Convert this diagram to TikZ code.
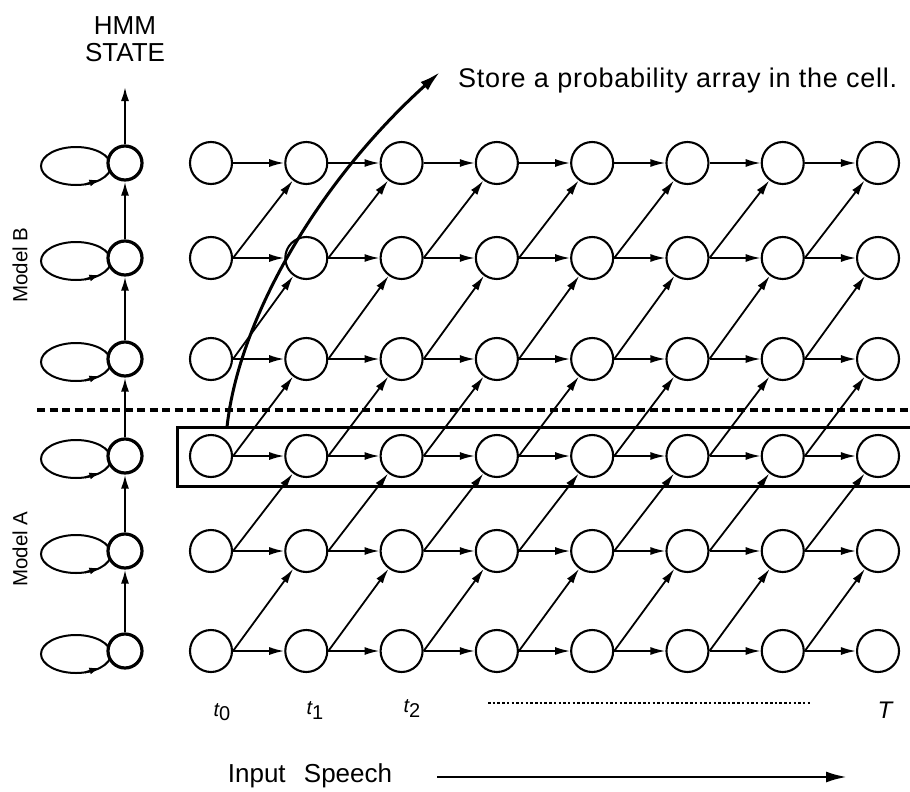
\documentclass[tikz,border=0pt]{standalone}
\usepackage{fontspec}
\setmainfont{Liberation Sans}
\usetikzlibrary{arrows.meta}
\begin{document}
\begin{tikzpicture}[x=1pt,y=-1pt,
  cell/.style={circle,draw,line width=2.1pt,fill=white,minimum size=42pt,inner sep=0pt},
  hstate/.style={circle,draw,line width=3.2pt,fill=white,minimum size=34pt,inner sep=0pt},
  arr/.style={line width=1.8pt,-{Latex[length=15pt,width=8pt]}},
  sarr/.style={line width=2pt,-{Latex[length=14pt,width=8pt]}},
  loopline/.style={line width=2pt},
  bigtxt/.style={font=\fontsize{26}{28}\selectfont,inner sep=0pt},
  midtxt/.style={font=\fontsize{20.5}{22}\selectfont,inner sep=0pt},
  tlab/.style={font=\fontsize{20}{22}\selectfont,inner sep=0pt,anchor=base}]
\useasboundingbox (0,0) rectangle (910,792);
% dashed separator and cell box
\coordinate (dl) at (37,410);
\coordinate (dr) at (910,410);
\draw[line width=3.2pt,dash pattern=on 8pt off 4.5pt] (dl) -- (dr);
\coordinate (b1) at (910,427);
\coordinate (b2) at (177,427);
\coordinate (b3) at (177,486);
\coordinate (b4) at (910,486);
\draw[line width=3pt] (b1) -- (b2) -- (b3) -- (b4);
% HMM state column
\foreach \r/\y in {1/163,2/258,3/359,4/456,5/551,6/651} {
  \draw[loopline] (76,\y+3) ellipse [x radius=35, y radius=19];
  \draw[loopline,-{Latex[length=11pt,width=7pt]}] (85,\y+21.4) -- (100.3,\y+16.7);
  \node[hstate] (L\r) at (125,\y) {};
}
\coordinate (top) at (125,87);
\draw[sarr] (L1) -- (top);
\foreach \r [evaluate=\r as \u using int(\r-1)] in {2,...,6}
  \draw[sarr] (L\r) -- (L\u);
% grid of cells
\foreach \c in {0,...,7}
  \foreach \r/\y in {1/163,2/258,3/359,4/456,5/551,6/651}
    \node[cell] (c\c-\r) at ({211+95.29*\c},\y) {};
\foreach \c [evaluate=\c as \n using int(\c+1)] in {0,...,6} {
  \foreach \r in {1,...,6}
    \draw[arr] (c\c-\r) -- (c\n-\r);
  \foreach \r [evaluate=\r as \u using int(\r-1)] in {2,...,6}
    \draw[arr] (c\c-\r.east) -- (c\n-\u);
}
% curved pointer
\coordinate (cs) at (227,427);
\coordinate (ce) at (440,72);
\draw[line width=3pt,-{Latex[length=21pt,width=11pt]}] (cs) .. controls (239,317) and (320,180) .. (ce);
% texts
\node[bigtxt,anchor=base] (hmm) at (125,35) {HMM};
\node[bigtxt,anchor=base] (st) at (125,62) {STATE};
\node[font=\fontsize{27}{29}\selectfont\addfontfeature{LetterSpace=2.8},inner sep=0pt,anchor=base west] (store) at (458,88) {Store a probability array in the cell.};
\node[midtxt,rotate=90] (mb) at (20,265) {Model B};
\node[midtxt,rotate=90] (ma) at (20,549) {Model A};
\node[tlab] (t0) at (222,716) {\itshape t\raisebox{-4pt}{\upshape 0}};
\node[tlab] (t1) at (315,714) {\itshape t\raisebox{-5pt}{\upshape 1}};
\node[tlab] (t2) at (412,712) {\itshape t\raisebox{-5pt}{\upshape 2}};
\node[font=\fontsize{24}{26}\selectfont,inner sep=0pt,anchor=base] (T) at (885,718) {\itshape T};
\coordinate (d1) at (488,703);
\coordinate (d2) at (812,703);
\draw[line width=1.8pt,dash pattern=on 2.5pt off 2.2pt] (d1) -- (d2);
\node[bigtxt,anchor=base] (inp) at (310,782) {Input\hspace{11pt} Speech};
\coordinate (i1) at (437,777);
\coordinate (i2) at (847,777);
\draw[line width=2.6pt,-{Latex[length=21pt,width=11pt]}] (i1) -- (i2);
\end{tikzpicture}
\end{document}
